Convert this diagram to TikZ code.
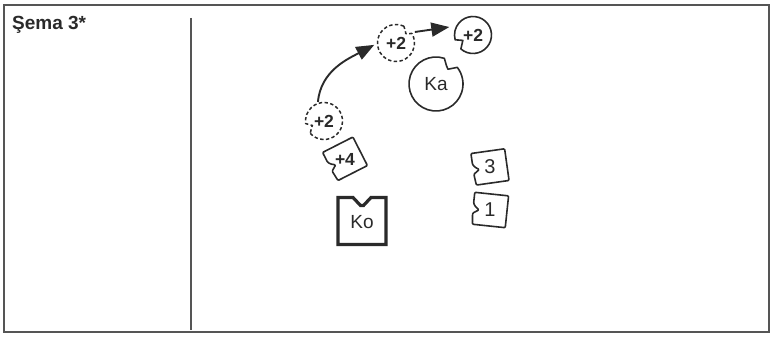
\documentclass[tikz,border=0pt]{standalone}
\usepackage{fontspec}
\setmainfont{Liberation Sans}
\usetikzlibrary{arrows.meta}

\definecolor{inkc}{HTML}{2A2A2A}
\definecolor{framec}{HTML}{555555}

\tikzset{
  ink/.style={draw=inkc, line width=1.6pt, line join=round},
  dashring/.style={ink, line width=1.5pt, dash pattern=on 3.4pt off 2.4pt},
  mover/.style={draw=inkc, line width=1.9pt, -{Triangle[length=18pt,width=14pt]}},
  lbl/.style={font=\fontsize{19}{19}\selectfont, text=inkc, inner sep=0pt},
  blbl/.style={font=\bfseries\fontsize{17.5}{17.5}\selectfont, text=inkc, inner sep=0pt},
  dlbl/.style={font=\fontsize{20}{20}\selectfont, text=inkc, inner sep=0pt},
}

% ring with a notch: #1 style, #2 node, #3 radius, #4 notch angle, #5 depth
\newcommand\notchring[5]{%
  \draw[#1, shift={(#2.center)}]
    ({#4+17}:#3) arc[start angle={#4+17}, end angle={#4+343}, radius=#3]
    -- ({#4-4}:{#3-#5}) -- ({#4+5}:{#3-#5+2}) -- cycle;}

% tab piece with a notched left side: #1 node, #2 rotation
\newcommand\tabpiece[2]{%
  \draw[ink, shift={(#1.center)}, rotate=#2, rounded corners=1pt]
    (-17,16) -- (17,16) -- (17,-16) -- (-16,-16) -- (-17,-5)
    -- (-11,-1) -- (-15,2) -- (-17,5) -- cycle;}

\begin{document}
\begin{tikzpicture}[x=1pt,y=1pt]
\useasboundingbox (0,0) rectangle (770,340);

% frame and divider
\draw[framec, line width=1.5pt] (4,8) rectangle (769,335);
\draw[framec, line width=1.3pt] (191,322) -- (191,10);
\node[font=\bfseries\fontsize{19}{19}\selectfont, text=inkc, anchor=base west, inner sep=0pt]
  (title) at (12,310) {Şema 3*};

% rings
\node[blbl, circle, minimum size=36pt] (c1) at (324,219) {+2};
\node[blbl, circle, minimum size=36pt] (c2) at (396,297) {+2};
\node[blbl, circle, minimum size=36pt] (c3) at (473,305) {+2};
\node[lbl, circle, minimum size=54pt] (ka) at (436,256) {Ka};
\notchring{dashring}{c1}{18.5}{205}{6}
\notchring{dashring}{c2}{18.5}{48}{5}
\notchring{ink}{c3}{18.5}{212}{7}
\notchring{ink}{ka}{27}{55}{8}

% moves
\draw[mover, shorten <=2pt, shorten >=4pt] (c1.110) to[out=85, in=208] (c2.west);
\draw[mover, shorten <=4pt, shorten >=8pt] (c2.35) -- (c3.150);

% tab pieces
\node[blbl] (p4) at (345,181) {+4};
\tabpiece{p4}{27}
\node[dlbl] (p3) at (490,173) {3};
\tabpiece{p3}{8}
\node[dlbl] (p1) at (490,130) {1};
\tabpiece{p1}{-6}

% Ko block
\node[lbl] (ko) at (362,118) {Ko};
\draw[draw=inkc, line width=3.2pt, line join=miter, shift={(ko.center)}]
  (-24,24.5) -- (-9,24.5) -- (-1.5,16.5) -- (1.5,16.5) -- (9,24.5) -- (24,24.5)
  -- (24,-22.5) -- (-24,-22.5) -- cycle;
\end{tikzpicture}
\end{document}
